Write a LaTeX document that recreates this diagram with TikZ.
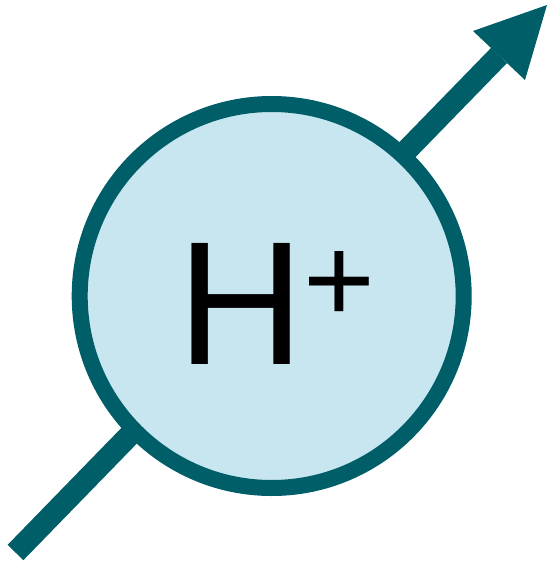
\documentclass[tikz,border=0pt]{standalone}
\usepackage{fontspec}
\setmainfont{Liberation Sans}
\definecolor{teal1}{RGB}{0,94,104}
\definecolor{ionfill}{RGB}{200,230,240}
\tikzset{
  shaft/.style={draw=teal1, line width=22pt},
  headtip/.style={fill=teal1},
  ion/.style={circle, draw=teal1, line width=16pt, fill=ionfill, minimum size=384pt, inner sep=0pt},
}
\begin{document}
\begin{tikzpicture}[x=1pt,y=-1pt]
\useasboundingbox (0,0) rectangle (548,562);
\coordinate (s) at (15.5,552.5);
\coordinate (tip) at (547,5);
\coordinate (b1) at (473,31);
\coordinate (b2) at (525,80);
\coordinate (bm) at (499,55.5);
\draw[shaft] (s) -- (bm);
\fill[headtip] (tip) -- (b1) -- (b2) -- cycle;
\node[ion] (c) at (271.7,296) {};
\node[anchor=base west, inner sep=0pt, text=black] (t) at (177,364)
  {\fontsize{176}{176}\selectfont H\kern-1pt\fontsize{123}{123}\selectfont\raisebox{42pt}{+}};
\end{tikzpicture}
\end{document}
